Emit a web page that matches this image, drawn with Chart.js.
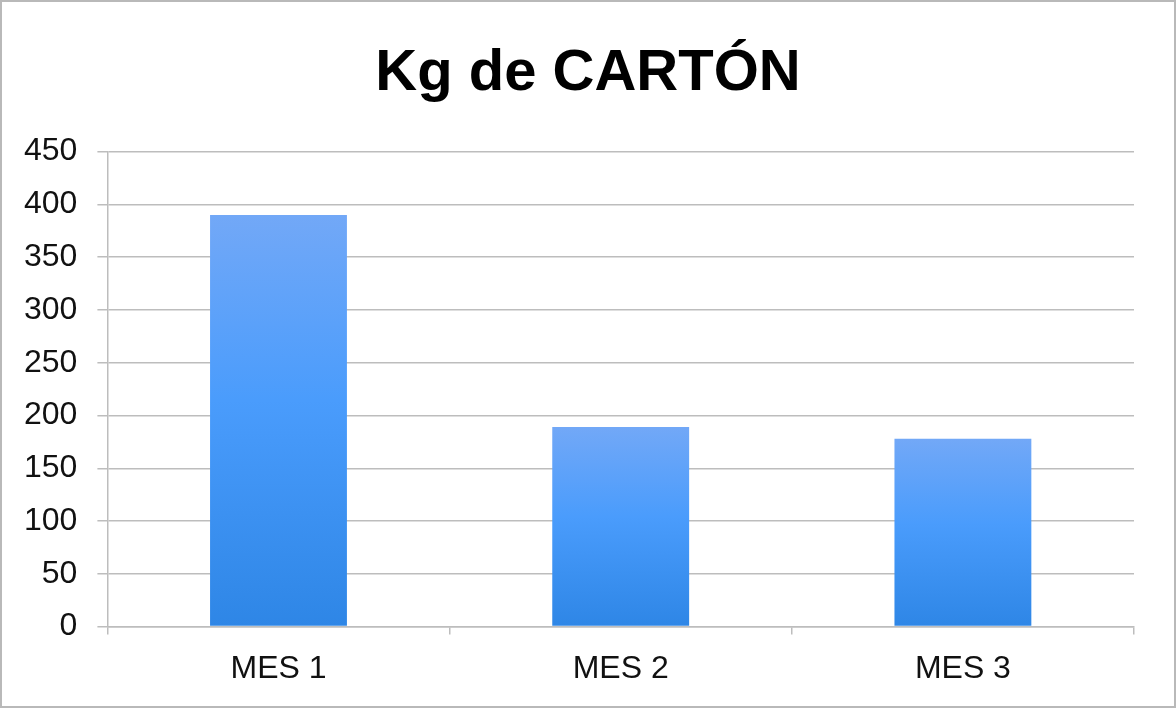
<!DOCTYPE html>
<html>
<head>
<meta charset="utf-8">
<script src="https://cdn.jsdelivr.net/npm/chart.js@4"></script>
<style>
  html, body { margin: 0; padding: 0; background: #fff; }
  .frame {
    width: 1176px;
    height: 708px;
    box-sizing: border-box;
    border: 2px solid #b9b9b9;
    position: relative;
  }
</style>
</head>
<body>
<div class="frame">
  <canvas id="chart"></canvas>
</div>
<script>
// data
const months = ["MES 1", "MES 2", "MES 3"];
const kgCarton = [390, 189, 178];
const yTicks = { min: 0, max: 450, step: 50 };

const font = "'Liberation Sans', Arial, Helvetica, sans-serif";
const gridGrey = "#bdbdbd";

// per-bar vertical gradient, light on top, darker at the base
function barFill(context) {
  const chart = context.chart;
  const { ctx, chartArea, scales } = chart;
  if (!chartArea || context.type !== "data") return "#4b9dfc";
  const top = scales.y.getPixelForValue(context.raw);
  const base = scales.y.getPixelForValue(0);
  const g = ctx.createLinearGradient(0, top, 0, base);
  g.addColorStop(0, "#72a8f7");
  g.addColorStop(0.45, "#4a9cfc");
  g.addColorStop(1, "#2e86e6");
  return g;
}

// center the title on the whole canvas, not on the padded box
const centerTitle = {
  id: "centerTitle",
  afterLayout(chart) {
    if (chart.titleBlock) {
      chart.titleBlock.left = 0;
      chart.titleBlock.right = chart.width;
    }
  },
};

new Chart(document.getElementById("chart"), {
  type: "bar",
  data: {
    labels: months,
    datasets: [
      {
        label: "Kg de CARTÓN",
        data: kgCarton,
        backgroundColor: barFill,
        borderWidth: 0,
        barPercentage: 0.4,
        categoryPercentage: 1.0,
      },
    ],
  },
  plugins: [centerTitle],
  options: {
    responsive: true,
    maintainAspectRatio: false,
    animation: false,
    layout: {
      padding: { left: 2, right: 40, top: 0, bottom: 3 },
    },
    plugins: {
      legend: { display: false },
      tooltip: { enabled: false },
      title: {
        display: true,
        text: "Kg de CARTÓN",
        color: "#000",
        font: { family: font, size: 58, weight: "bold" },
        padding: { top: 37, bottom: 43 },
      },
    },
    scales: {
      x: {
        offset: true,
        grid: {
          offset: true,
          drawOnChartArea: false,
          drawTicks: true,
          tickLength: 8,
          color: gridGrey,
          lineWidth: 1.5,
        },
        border: { display: true, color: gridGrey, width: 1.5 },
        ticks: {
          color: "#111",
          padding: 15,
          font: { family: font, size: 32 },
        },
      },
      y: {
        min: yTicks.min,
        max: yTicks.max,
        grid: {
          color: gridGrey,
          lineWidth: 1.5,
          tickLength: 10,
        },
        border: { display: true, color: gridGrey, width: 1.5 },
        ticks: {
          stepSize: yTicks.step,
          color: "#111",
          padding: 20,
          font: { family: font, size: 32 },
        },
      },
    },
  },
});
</script>
</body>
</html>
